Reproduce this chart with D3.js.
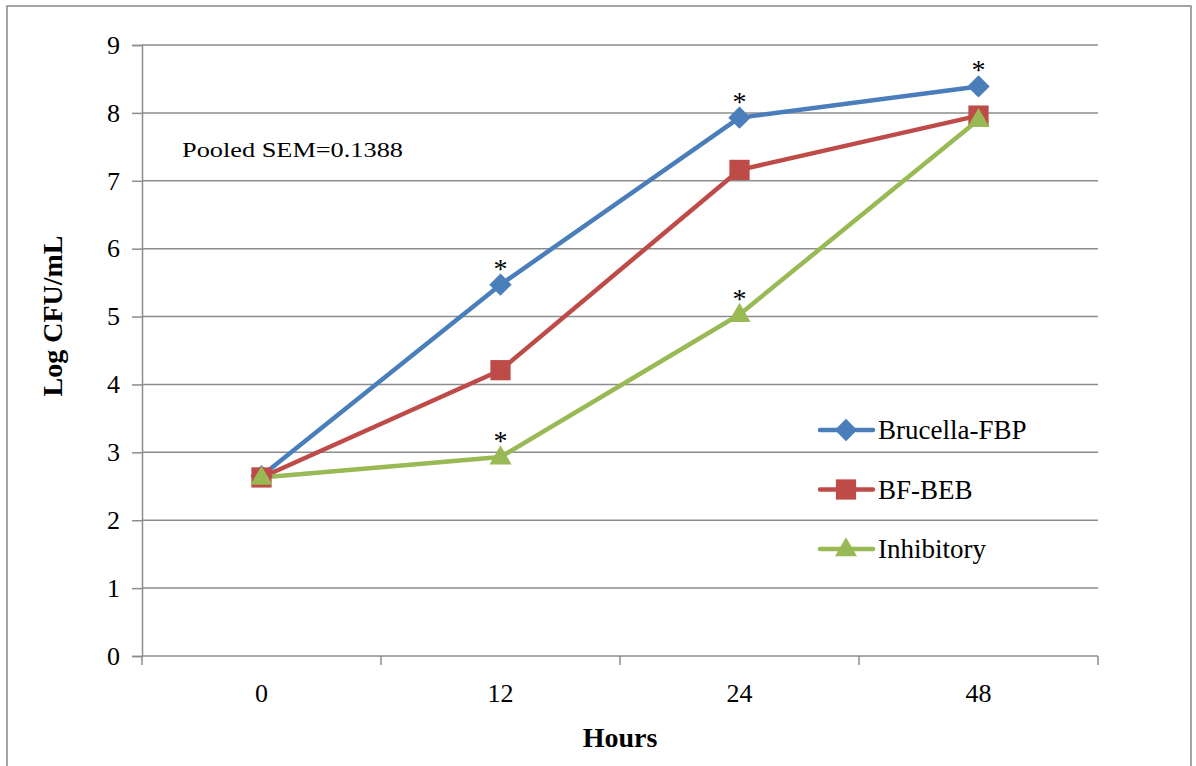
<!DOCTYPE html>
<html>
<head>
<meta charset="utf-8">
<script src="https://cdn.jsdelivr.net/npm/d3@7"></script>
<style>
  body { margin: 0; background: #fff; }
  svg text { font-family: "Liberation Serif", "Times New Roman", "DejaVu Serif", serif !important; }
</style>
</head>
<body>
<svg id="chart" width="1196" height="766"></svg>
<script>
const hours = ['0', '12', '24', '48'];
const yTicks = [0, 1, 2, 3, 4, 5, 6, 7, 8, 9];

const brucellaFbp = [2.65, 5.47, 7.93, 8.39];
const bfBeb = [2.63, 4.21, 7.16, 7.96];
const inhibitory = [2.63, 2.93, 5.03, 7.9];

// which points carry a significance star
const starsFbp = [false, true, true, true];
const starsInh = [false, true, true, false];

const series = [
  { name: 'Brucella-FBP', values: brucellaFbp, color: '#4a7ebb', symbol: d3.symbolSquare, size: 250, rot: 45, dy: 0, stars: starsFbp },
  { name: 'BF-BEB', values: bfBeb, color: '#be4b48', symbol: d3.symbolSquare, size: 410, rot: 0, dy: 0, stars: null },
  { name: 'Inhibitory', values: inhibitory, color: '#98b954', symbol: d3.symbolTriangle, size: 210, rot: 0, dy: 1, stars: starsInh }
];

const svg = d3.select('#chart');
const serif = '"Liberation Serif", "Times New Roman", serif';
const margin = { left: 142, right: 1098, top: 45, bottom: 656 };

// outer frame
svg.append('rect')
  .attr('x', 7).attr('y', 6)
  .attr('width', 1184).attr('height', 770)
  .attr('fill', 'none')
  .attr('stroke', '#888')
  .attr('stroke-width', 1.5);

const x = d3.scaleBand().domain(hours).range([margin.left, margin.right]);
const y = d3.scaleLinear().domain([0, 9]).range([margin.bottom, margin.top]);

// gridlines
svg.append('g')
  .selectAll('line')
  .data(yTicks.filter(d => d > 0))
  .enter().append('line')
  .attr('x1', margin.left).attr('x2', margin.right)
  .attr('y1', d => y(d)).attr('y2', d => y(d))
  .attr('stroke', '#8c8c8c')
  .attr('stroke-width', 1.5);

// y axis
const yAxis = svg.append('g')
  .attr('transform', `translate(${margin.left},0)`)
  .call(d3.axisLeft(y).tickValues(yTicks).tickSize(10).tickPadding(12))
  .attr('font-family', serif);
yAxis.select('.domain').attr('stroke', '#8c8c8c').attr('stroke-width', 1.5);
yAxis.selectAll('.tick line').attr('stroke', '#8c8c8c').attr('stroke-width', 1.5);
yAxis.selectAll('.tick text')
  .attr('font-size', 26).attr('fill', '#000')
  .attr('font-family', serif);

// x axis: ticks on band edges, labels at centres
const xAxis = svg.append('g')
  .attr('transform', `translate(0,${margin.bottom})`);
xAxis.append('line')
  .attr('x1', margin.left).attr('x2', margin.right)
  .attr('stroke', '#8c8c8c').attr('stroke-width', 1.5);
const edges = hours.map(h => x(h)).concat([x(hours[hours.length - 1]) + x.bandwidth()]);
xAxis.selectAll('.edge')
  .data(edges)
  .enter().append('line')
  .attr('x1', d => d).attr('x2', d => d)
  .attr('y1', 0).attr('y2', 9)
  .attr('stroke', '#8c8c8c').attr('stroke-width', 1.5);
xAxis.selectAll('.lab')
  .data(hours)
  .enter().append('text')
  .attr('x', d => x(d) + x.bandwidth() / 2)
  .attr('y', 46)
  .attr('text-anchor', 'middle')
  .attr('font-family', serif)
  .attr('font-size', 26)
  .text(d => d);

// axis titles
svg.append('text')
  .attr('x', 620).attr('y', 747)
  .attr('text-anchor', 'middle')
  .attr('font-family', serif)
  .attr('font-size', 28).attr('font-weight', 'bold')
  .text('Hours');
svg.append('text')
  .attr('transform', 'translate(62,316) rotate(-90)')
  .attr('text-anchor', 'middle')
  .attr('font-family', serif)
  .attr('font-size', 28).attr('font-weight', 'bold')
  .text('Log CFU/mL');

svg.append('text')
  .attr('x', 182).attr('y', 157)
  .attr('font-family', serif)
  .attr('font-size', 22)
  .attr('textLength', 221)
  .attr('lengthAdjust', 'spacingAndGlyphs')
  .text('Pooled SEM=0.1388');

const cx = (d, i) => x(hours[i]) + x.bandwidth() / 2;
const line = d3.line().x(cx).y(d => y(d));

series.forEach(s => {
  svg.append('path')
    .datum(s.values)
    .attr('d', line)
    .attr('fill', 'none')
    .attr('stroke', s.color)
    .attr('stroke-width', 4.5)
    .attr('stroke-linejoin', 'round');
});

series.forEach(s => {
  const sym = d3.symbol().type(s.symbol).size(s.size);
  svg.append('g').selectAll('path')
    .data(s.values)
    .enter().append('path')
    .attr('d', sym)
    .attr('transform', (d, i) => `translate(${cx(d, i)},${y(d) + s.dy}) rotate(${s.rot})`)
    .attr('fill', s.color);
  if (s.stars) {
    svg.append('g').selectAll('text')
      .data(s.values.map((v, i) => ({ v, i })).filter(d => s.stars[d.i]))
      .enter().append('text')
      .attr('x', d => cx(d.v, d.i))
      .attr('y', d => y(d.v) - 7)
      .attr('text-anchor', 'middle')
      .attr('font-family', serif)
      .attr('font-size', 28)
      .text('*');
  }
});

// legend
const legend = svg.append('g');
series.forEach((s, i) => {
  const ly = 430 + i * 59.5;
  legend.append('line')
    .attr('x1', 820).attr('x2', 873)
    .attr('y1', ly).attr('y2', ly)
    .attr('stroke', s.color)
    .attr('stroke-width', 4.5)
    .attr('stroke-linecap', 'round');
  legend.append('path')
    .attr('d', d3.symbol().type(s.symbol).size(s.size)())
    .attr('transform', `translate(846,${ly + s.dy}) rotate(${s.rot})`)
    .attr('fill', s.color);
  legend.append('text')
    .attr('x', 878).attr('y', ly + 9)
    .attr('font-family', serif)
    .attr('font-size', 27)
    .text(s.name);
});
</script>
</body>
</html>
